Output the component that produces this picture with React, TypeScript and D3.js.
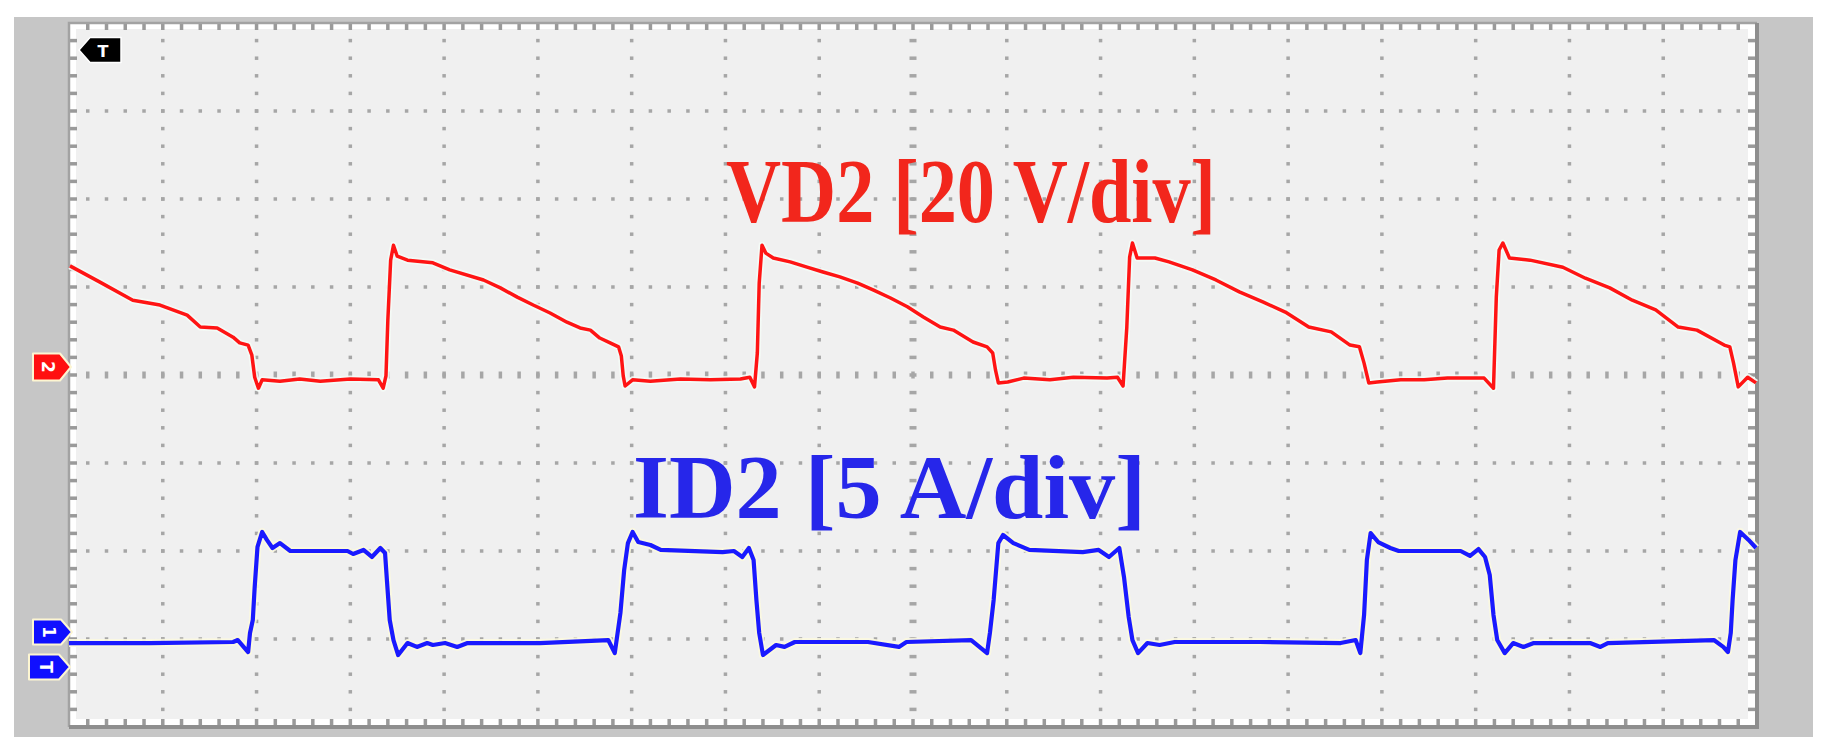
import React from "react";
import * as d3 from "d3";

const W = 1825;
const H = 756;
const DIV_X = 18;
const DIV_Y = 8;
const SUB = 5;

// channel settings
const VD2_VOLTS_PER_DIV = 20;
const VD2_GROUND_DIV = 0;
const ID2_AMPS_PER_DIV = 5;
const ID2_GROUND_DIV = -3;

const vd2Label = "VD2 [20 V/div]";
const id2Label = "ID2 [5 A/div]";

// VD2 trace: [time in div, volts]
const vd2Trace: [number, number][] = [
  [0.01, 24.8], [0.33, 21.1], [0.68, 17.0], [0.97, 15.9], [1.26, 13.6], [1.4, 10.9],
  [1.58, 10.7], [1.75, 8.6], [1.82, 7.3], [1.91, 6.8], [1.95, 4.5], [1.98, -0.5],
  [2.02, -3.0], [2.06, -1.1], [2.25, -1.4], [2.46, -0.9], [2.68, -1.4], [3.0, -0.9],
  [3.3, -1.1], [3.35, -3.0], [3.38, -0.2], [3.40, 12.5], [3.43, 26.1], [3.46, 29.5],
  [3.50, 27.0], [3.61, 26.1], [3.88, 25.5], [4.06, 23.9], [4.42, 21.6], [4.6, 19.8],
  [4.78, 17.7], [4.95, 15.9], [5.13, 14.1], [5.31, 12.0], [5.45, 10.7], [5.56, 10.2],
  [5.66, 8.4], [5.77, 7.3], [5.86, 6.4], [5.89, 4.3], [5.91, -0.2], [5.93, -2.5],
  [6.01, -1.1], [6.2, -1.4], [6.52, -0.9], [6.84, -1.1], [7.16, -0.9], [7.26, -0.5],
  [7.31, -2.7], [7.34, 5.0], [7.36, 20.9], [7.39, 29.5], [7.43, 27.7], [7.51, 26.6],
  [7.69, 25.7], [7.87, 24.5], [8.04, 23.4], [8.22, 22.3], [8.41, 20.9], [8.58, 19.3],
  [8.76, 17.5], [8.94, 15.5], [9.11, 13.2], [9.29, 10.9], [9.43, 10.2], [9.64, 7.5],
  [9.79, 6.4], [9.85, 5.0], [9.88, 1.1], [9.91, -1.8], [10.01, -1.6], [10.18, -0.7],
  [10.46, -1.1], [10.71, -0.5], [11.07, -0.7], [11.18, -0.5], [11.24, -2.5], [11.28, 10.9],
  [11.31, 26.8], [11.34, 30.0], [11.39, 26.6], [11.58, 26.6], [11.73, 25.7], [11.98, 23.9],
  [12.23, 21.6], [12.48, 18.9], [12.73, 16.6], [12.97, 14.3], [13.22, 10.9], [13.46, 9.8],
  [13.66, 6.8], [13.76, 6.4], [13.81, 2.7], [13.86, -1.8], [13.95, -1.6], [14.2, -1.1],
  [14.45, -1.1], [14.7, -0.7], [15.09, -0.7], [15.19, -3.0], [15.22, 17.7], [15.25, 28.4],
  [15.29, 30.0], [15.36, 26.6], [15.58, 26.1], [15.93, 24.5], [16.17, 22.0], [16.43, 19.8],
  [16.67, 17.0], [16.92, 14.8], [17.16, 10.9], [17.36, 10.2], [17.65, 6.8], [17.71, 6.4],
  [17.75, 2.7], [17.8, -2.7], [17.9, -0.5], [17.99, -1.8],
];

// ID2 trace: [time in div, amps]
const id2Trace: [number, number][] = [
  [0, -0.23], [0.86, -0.23], [1.75, -0.17], [1.8, -0.06], [1.91, -0.74], [1.93, 0.34],
  [1.96, 1.08], [1.98, 2.95], [2.01, 5.23], [2.06, 6.08], [2.11, 5.63], [2.17, 5.17],
  [2.25, 5.45], [2.36, 5.0], [2.97, 5.0], [3.03, 4.83], [3.14, 5.06], [3.23, 4.66],
  [3.32, 5.17], [3.37, 4.89], [3.39, 3.35], [3.42, 1.08], [3.46, -0.06], [3.51, -0.91],
  [3.61, -0.23], [3.71, -0.45], [3.82, -0.23], [3.88, -0.34], [4.01, -0.23], [4.14, -0.45],
  [4.25, -0.23], [5.02, -0.23], [5.75, -0.06], [5.82, -0.8], [5.88, 1.48], [5.92, 3.92],
  [5.96, 5.45], [6.01, 6.08], [6.07, 5.51], [6.2, 5.34], [6.31, 5.06], [6.97, 4.94],
  [7.09, 5.0], [7.18, 4.66], [7.25, 5.17], [7.3, 4.49], [7.33, 2.22], [7.36, 0.34],
  [7.40, -0.91], [7.54, -0.34], [7.63, -0.45], [7.74, -0.17], [8.52, -0.17], [8.85, -0.45],
  [8.93, -0.17], [9.62, -0.06], [9.79, -0.8], [9.82, 0.34], [9.86, 2.22], [9.91, 5.45],
  [9.96, 5.91], [10.07, 5.45], [10.24, 5.06], [10.81, 4.94], [10.98, 5.06], [11.09, 4.66],
  [11.2, 5.17], [11.25, 3.52], [11.3, 1.25], [11.34, -0.06], [11.4, -0.8], [11.5, -0.23],
  [11.63, -0.34], [11.79, -0.17], [12.7, -0.17], [13.56, -0.23], [13.72, -0.06], [13.77, -0.8],
  [13.81, 1.36], [13.84, 4.49], [13.88, 6.02], [13.96, 5.51], [14.09, 5.17], [14.18, 5.0],
  [14.84, 5.0], [14.94, 4.72], [15.03, 5.11], [15.1, 4.66], [15.15, 3.64], [15.19, 1.36],
  [15.23, -0.06], [15.31, -0.8], [15.4, -0.23], [15.51, -0.45], [15.62, -0.23], [16.22, -0.23],
  [16.33, -0.45], [16.41, -0.23], [17.54, -0.06], [17.64, -0.45], [17.69, -0.74], [17.72, 0.34],
  [17.74, 2.22], [17.77, 4.49], [17.82, 6.08], [17.91, 5.63], [17.99, 5.17],
];

const plot = { left: 69, top: 23, right: 1757, bottom: 727 };

const x = d3.scaleLinear().domain([0, DIV_X]).range([plot.left, plot.right]);
const y = d3.scaleLinear().domain([-DIV_Y / 2, DIV_Y / 2]).range([plot.bottom, plot.top]);

const vd2Line = d3
  .line<[number, number]>()
  .x((d) => x(d[0]))
  .y((d) => y(d[1] / VD2_VOLTS_PER_DIV + VD2_GROUND_DIV));

const id2Line = d3
  .line<[number, number]>()
  .x((d) => x(d[0]))
  .y((d) => y(d[1] / ID2_AMPS_PER_DIV + ID2_GROUND_DIV));

const GRID = "#a6a6a6";
const RED = "#ff1414";
const BLUE = "#1a1aff";

// channel marker, tip at (tx, ty); dir 1 points right, -1 points left
const markerPath = (tx: number, ty: number, w: number, h: number, dir = 1) => {
  const b = tx - dir * w;
  const s = tx - dir * 11;
  return `M${b},${ty - h / 2} L${s},${ty - h / 2} L${tx},${ty} L${s},${ty + h / 2} L${b},${ty + h / 2} Z`;
};

const Marker = ({ tx, ty, w, h, fill, label }: any) => {
  const cx = tx - (w / 2 + 4);
  return (
    <g>
      <path d={markerPath(tx, ty, w, h)} fill={fill} stroke="#fdf6d2" strokeWidth={2} strokeLinejoin="round" />
      <text
        x={cx}
        y={ty}
        fill="#fff"
        fontFamily="DejaVu Sans"
        fontWeight="bold"
        fontSize={17}
        textAnchor="middle"
        dominantBaseline="central"
        transform={`rotate(90 ${cx} ${ty})`}
      >
        {label}
      </text>
    </g>
  );
};

export default function App() {
  const xMajor = d3.range(1, DIV_X);
  const yMajor = d3.range(-DIV_Y / 2 + 1, DIV_Y / 2);
  const xMinor = d3.range(0, DIV_X * SUB + 1).map((i) => i / SUB);
  const yMinor = d3.range(-(DIV_Y / 2) * SUB, (DIV_Y / 2) * SUB + 1).map((i) => i / SUB);

  const dots: JSX.Element[] = [];
  xMajor.forEach((gx) => {
    const center = gx === DIV_X / 2;
    yMinor.slice(1, -1).forEach((gy, i) => {
      const w = center ? 7 : 3.5;
      dots.push(<rect key={`v${gx}-${i}`} x={x(gx) - w / 2} y={y(gy) - 1.75} width={w} height={3.5} fill={GRID} />);
    });
  });
  yMajor.forEach((gy) => {
    const center = gy === 0;
    xMinor.slice(1, -1).forEach((gx, i) => {
      const h = center ? 7 : 3.5;
      dots.push(<rect key={`h${gy}-${i}`} x={x(gx) - 1.75} y={y(gy) - h / 2} width={3.5} height={h} fill={GRID} />);
    });
  });

  const edgeTicks: JSX.Element[] = [];
  xMinor.slice(1, -1).forEach((gx, i) => {
    edgeTicks.push(<rect key={`t${i}`} x={x(gx) - 1.75} y={plot.top + 1} width={3.5} height={6} fill="#9a9a9a" />);
    edgeTicks.push(<rect key={`b${i}`} x={x(gx) - 1.75} y={plot.bottom - 8} width={3.5} height={7} fill="#9a9a9a" />);
  });
  yMinor.slice(1, -1).forEach((gy, i) => {
    edgeTicks.push(<rect key={`l${i}`} x={plot.left + 1} y={y(gy) - 1.75} width={7} height={3.5} fill="#9a9a9a" />);
    edgeTicks.push(<rect key={`r${i}`} x={plot.right - 9} y={y(gy) - 1.75} width={8} height={3.5} fill="#9a9a9a" />);
  });

  const pw = plot.right - plot.left;
  const ph = plot.bottom - plot.top;

  return (
    <svg width={W} height={H} style={{ position: "absolute", left: 0, top: 0, background: "#fff" }}>
      {/* outer frame */}
      <rect x={14} y={17} width={1813 - 14} height={737 - 17} fill="#c6c6c6" />
      {/* plot background with white inner edge strip */}
      <rect x={plot.left} y={plot.top} width={pw} height={ph} fill="#ffffff" />
      <rect x={plot.left + 7} y={plot.top + 6} width={pw - 16} height={ph - 14} fill="#f0f0f0" />
      {edgeTicks}
      {dots}
      {/* bevelled border */}
      <path d={`M${plot.left},${plot.bottom} V${plot.top} H${plot.right}`} fill="none" stroke="#a2a2a2" strokeWidth={2.5} />
      <path d={`M${plot.right},${plot.top} V${plot.bottom} H${plot.left}`} fill="none" stroke="#8e8e8e" strokeWidth={4} />

      {/* labels */}
      <text
        x={726}
        y={222}
        fill="#f2261c"
        fontFamily="'Liberation Serif', 'Times New Roman', serif"
        fontWeight="bold"
        fontSize={90}
        textLength={490}
        lengthAdjust="spacingAndGlyphs"
      >
        {vd2Label}
      </text>
      <text
        x={633}
        y={518}
        fill="#2626ea"
        fontFamily="'Liberation Serif', 'Times New Roman', serif"
        fontWeight="bold"
        fontSize={90}
        textLength={513}
        lengthAdjust="spacingAndGlyphs"
      >
        {id2Label}
      </text>

      {/* traces */}
      <path d={vd2Line(vd2Trace) || ""} fill="none" stroke="#f4fbf6" strokeWidth={7} strokeLinejoin="round" opacity={0.9} />
      <path d={vd2Line(vd2Trace) || ""} fill="none" stroke={RED} strokeWidth={3.5} strokeLinejoin="round" />
      <path d={id2Line(id2Trace) || ""} fill="none" stroke="#fbf8e0" strokeWidth={8} strokeLinejoin="round" opacity={0.9} />
      <path d={id2Line(id2Trace) || ""} fill="none" stroke={BLUE} strokeWidth={4.2} strokeLinejoin="round" />

      {/* channel / trigger markers */}
      <Marker tx={71} ty={y(VD2_GROUND_DIV) - 8} w={38} h={27} fill="#ff1010" label="2" />
      <Marker tx={72} ty={y(ID2_GROUND_DIV) - 7} w={39} h={25} fill="#1010ff" label="1" />
      <Marker tx={70} ty={y(ID2_GROUND_DIV) + 28} w={41} h={25} fill="#1010ff" label="T" />
      <path d={markerPath(79, 50, 42, 25, -1)} fill="#000" stroke="#fff" strokeWidth={1.5} strokeLinejoin="round" />
      <text x={103} y={51} fill="#fff" fontFamily="DejaVu Sans" fontWeight="bold" fontSize={16} textAnchor="middle" dominantBaseline="central">
        T
      </text>
    </svg>
  );
}
